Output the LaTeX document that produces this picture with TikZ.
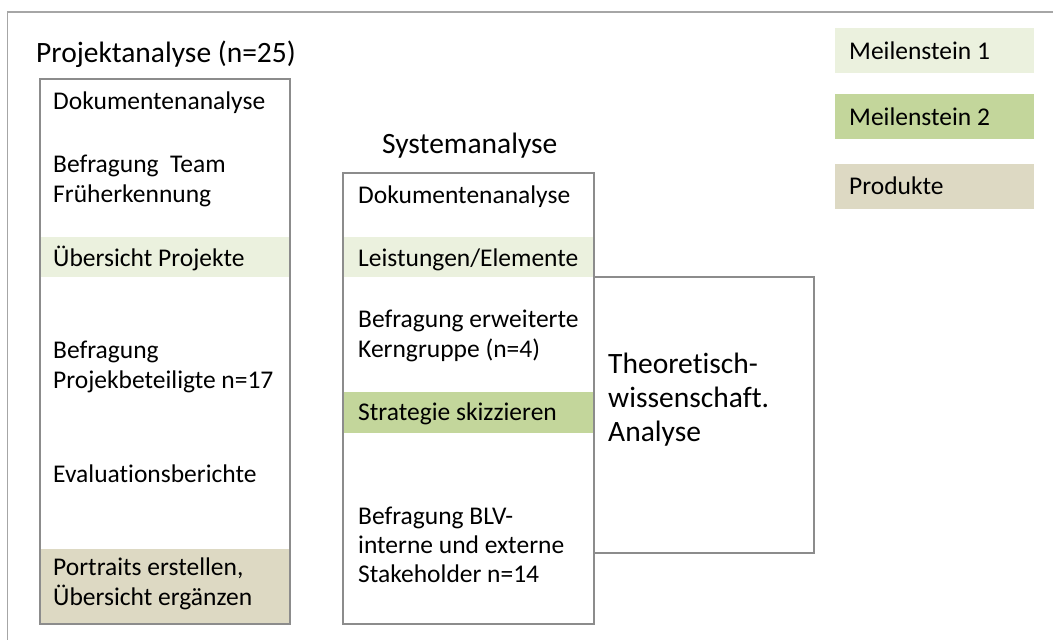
\documentclass[tikz,border=0pt]{standalone}
\usepackage{fontspec}
\setmainfont{Carlito}[Ligatures=NoCommon]
\definecolor{msa}{HTML}{EBF1DE}
\definecolor{msb}{HTML}{C3D69B}
\definecolor{prod}{HTML}{DDD9C3}
\definecolor{frame}{HTML}{A6A6A6}
\definecolor{boxline}{HTML}{8C8C8C}
\begin{document}
\begin{tikzpicture}[x=1pt,y=-1pt,
  body/.style={anchor=base west,inner sep=0pt,align=left,font=\fontsize{25.5}{30}\selectfont},
  tight/.style={font=\fontsize{25.5}{29}\selectfont},
  head/.style={anchor=base west,inner sep=0pt,align=left,font=\fontsize{29.5}{34}\selectfont},
  colbox/.style={draw=boxline,line width=1.2pt}]
\useasboundingbox (0,0) rectangle (1053,640);
% outer frame
\draw[frame,line width=1.5pt] (7.5,660) -- (7.5,12) -- (1070,12);
% legend
\fill[msa] (835,28) rectangle (1034,73);
\fill[msb] (835,94) rectangle (1034,139);
\fill[prod] (835,164) rectangle (1034,209);
\node[body] (lg1) at (849,59) {Meilenstein 1};
\node[body] (lg2) at (849,125) {Meilenstein 2};
\node[body] (lg3) at (849,194) {Produkte};
% left column
\node[head] (pt) at (36,62) {Projektanalyse (n=25)};
\fill[msa] (40,236.5) rectangle (290,277);
\fill[prod] (40,549) rectangle (290,624);
\draw[colbox] (40,79) rectangle (290,624);
\node[body] (l1) at (53,109) {Dokumentenanalyse};
\node[body] (l2) at (53,202) {Befragung\ \ Team\\Früherkennung};
\node[body] (l3) at (53,266) {Übersicht Projekte};
\node[body] (l4) at (53,388) {Befragung\\Projekbeteiligte n=17};
\node[body] (l5) at (53,482) {Evaluationsberichte};
\node[body] (l6) at (53,605) {Portraits erstellen,\\Übersicht ergänzen};
% middle column
\node[head] (st) at (382,153) {Systemanalyse};
\fill[msa] (343,236.5) rectangle (594,277);
\fill[msb] (343,392) rectangle (594,433);
\draw[colbox] (343,173) rectangle (594,624);
\node[body] (m1) at (358,203) {Dokumentenanalyse};
\node[body] (m2) at (358,266) {Leistungen/Elemente};
\node[body] (m3) at (358,357) {Befragung erweiterte\\Kerngruppe (n=4)};
\node[body] (m4) at (358,420) {Strategie skizzieren};
\node[body,tight] (m5) at (358,582) {Befragung BLV-\\interne und externe\\Stakeholder n=14};
% theory box
\draw[colbox] (594,277) rectangle (814,553);
\node[head] (th) at (608,441) {Theoretisch-\\wissenschaft.\\Analyse};
\end{tikzpicture}
\end{document}
